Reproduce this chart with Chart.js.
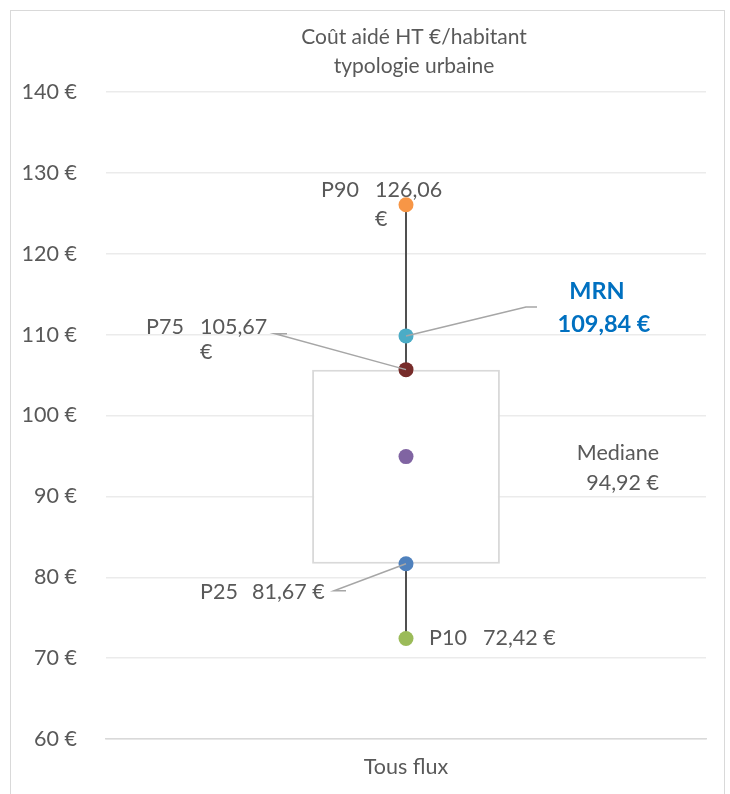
<!DOCTYPE html>
<html lang="fr">
<head>
<meta charset="utf-8">
<title>Coût aidé HT €/habitant</title>
<script src="https://cdn.jsdelivr.net/npm/chart.js@4/dist/chart.umd.min.js"></script>
<style>
  html, body { margin: 0; padding: 0; background: #fff; overflow: hidden; }
  #wrap { position: relative; width: 730px; height: 794px; }
  #frame {
    position: absolute; left: 10px; top: 10px; width: 713px; height: 800px;
    border: 1px solid #d9d9d9; pointer-events: none;
  }
  canvas { position: absolute; left: 0; top: 0; }
</style>
</head>
<body>
<div id="wrap">
  <canvas id="chart" width="730" height="794"></canvas>
  <div id="frame"></div>
</div>
<script>
// Values
const categories = ['Tous flux'];
const statNames = ['P10', 'P25', 'Mediane', 'P75', 'P90'];
const statValues = [72.42, 81.67, 94.92, 105.67, 126.06];
const mrnName = 'MRN';
const mrnValue = 109.84;
const yMin = 60, yMax = 140, yStep = 10;
const titleLines = ['Coût aidé HT €/habitant', 'typologie urbaine'];

const FONT = 'Lato, "Open Sans", sans-serif';
const TEXT = '#595959';
const SIZE = 21.5;

const stat = name => statValues[statNames.indexOf(name)];
const fmt = v => v.toFixed(2).replace('.', ',') + ' €';
const at = (name, v) => ({ x: categories[0], y: v, name: name });

const pointColors = {
  P90: '#f79646', MRN: '#4bacc6', P75: '#772c2a',
  Mediane: '#8064a2', P25: '#4f81bd', P10: '#9bbb59'
};

function pointSet(name, v) {
  return {
    type: 'line', label: name, data: [at(name, v)], showLine: false,
    pointRadius: 7.5, pointHoverRadius: 7.5,
    pointBackgroundColor: pointColors[name], pointBorderWidth: 0, order: 1
  };
}

// label layout around each marker: [kind, dx, dy, align, bold] relative to the point
// kind: 'name', 'num' (number only), 'cur' (euro sign only), 'full' (number + euro)
const labelLayout = {
  P90: { pieces: [['name', -85, -15], ['num', -31, -15], ['cur', -31, 14]] },
  P75: { pieces: [['name', -260, -43], ['num', -206, -43], ['cur', -206, -18]],
         leader: [[-131, -36], [-119, -36]] },
  P25: { pieces: [['name', -206, 28], ['full', -154, 28]],
         leader: [[-72, 27], [-60, 27]] },
  P10: { pieces: [['name', 23, 0], ['full', 77, 0]] },
  Mediane: { pieces: [['name', 253, -4, 'right'], ['full', 253, 26, 'right']] },
  MRN: { pieces: [['name', 191, -44, 'center', true], ['full', 198, -11, 'center', true]],
         leader: [[120, -29], [131, -29]] }
};

function pieceText(kind, name, v) {
  const txt = fmt(v);
  if (kind === 'name') return name;
  if (kind === 'num') return txt.split(' ')[0];
  if (kind === 'cur') return txt.split(' ')[1];
  return txt;
}

const decorations = {
  id: 'decorations',
  afterDatasetsDraw(chart) {
    const ctx = chart.ctx;
    const xs = chart.scales.x, ys = chart.scales.y;
    const px = xs.getPixelForValue(0);
    ctx.save();

    // title
    ctx.fillStyle = TEXT;
    ctx.font = '21px ' + FONT;
    ctx.textAlign = 'center';
    ctx.textBaseline = 'middle';
    ctx.fillText(titleLines[0], 414, 37);
    ctx.fillText(titleLines[1], 414, 66);

    const all = statNames.map((n, i) => [n, statValues[i]]).concat([[mrnName, mrnValue]]);
    all.forEach(([name, v]) => {
      const py = ys.getPixelForValue(v);
      const lay = labelLayout[name];
      if (lay.leader) {
        ctx.strokeStyle = '#a6a6a6';
        ctx.lineWidth = 1.5;
        ctx.beginPath();
        ctx.moveTo(px + lay.leader[1][0], py + lay.leader[1][1]);
        ctx.lineTo(px + lay.leader[0][0], py + lay.leader[0][1]);
        ctx.lineTo(px, py);
        ctx.stroke();
      }
      lay.pieces.forEach(([kind, dx, dy, align, bold]) => {
        ctx.font = bold ? 'bold 23.5px ' + FONT : SIZE + 'px ' + FONT;
        ctx.fillStyle = bold ? '#0070c0' : TEXT;
        ctx.textAlign = align || 'left';
        ctx.textBaseline = 'middle';
        ctx.fillText(pieceText(kind, name, v), px + dx, py + dy);
      });
    });
    ctx.restore();
  }
};

const ticks = [];
for (let t = yMin; t <= yMax; t += yStep) ticks.push(t);

new Chart(document.getElementById('chart'), {
  type: 'bar',
  data: {
    labels: categories,
    datasets: [
      {
        label: 'P25-P75', data: [[stat('P25'), stat('P75')]],
        backgroundColor: '#ffffff', borderColor: '#d9d9d9', borderWidth: 2,
        borderSkipped: false, barPercentage: 0.313, categoryPercentage: 1, order: 10
      },
      {
        type: 'line', label: 'haut', data: [at('P90', stat('P90')), at('P75', stat('P75'))],
        borderColor: '#505050', borderWidth: 2, pointRadius: 0, order: 5
      },
      {
        type: 'line', label: 'bas', data: [at('P25', stat('P25')), at('P10', stat('P10'))],
        borderColor: '#505050', borderWidth: 2, pointRadius: 0, order: 5
      },
      pointSet('P90', stat('P90')),
      pointSet(mrnName, mrnValue),
      pointSet('P75', stat('P75')),
      pointSet('Mediane', stat('Mediane')),
      pointSet('P25', stat('P25')),
      pointSet('P10', stat('P10'))
    ]
  },
  options: {
    responsive: false,
    animation: false,
    events: [],
    layout: { padding: { top: 92, right: 24, bottom: 0, left: 0 } },
    plugins: { legend: { display: false }, tooltip: { enabled: false } },
    scales: {
      x: {
        grid: { display: false, drawTicks: false },
        border: { display: true, color: '#d9d9d9', width: 1.5 },
        ticks: { color: TEXT, font: { family: FONT, size: SIZE }, padding: 15 },
        afterFit: s => { s.height = 55; }
      },
      y: {
        min: yMin, max: yMax,
        afterBuildTicks: s => { s.ticks = ticks.map(v => ({ value: v })); },
        grid: { color: '#ebebeb', lineWidth: 1.5, drawTicks: false },
        border: { display: false },
        ticks: {
          color: TEXT, font: { family: FONT, size: SIZE }, padding: 29,
          callback: v => v + ' €'
        },
        afterFit: s => { s.width = 106; }
      }
    }
  },
  plugins: [decorations]
});
</script>
</body>
</html>
